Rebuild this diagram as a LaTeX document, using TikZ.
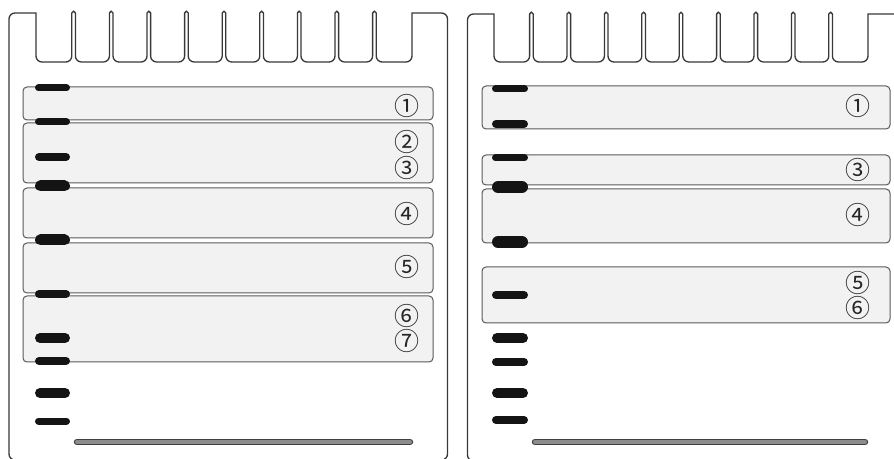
\documentclass[tikz,border=0pt]{standalone}
\usepackage{fontspec}
\newfontfamily\cjk{Noto Sans CJK SC}
\begin{document}
\begin{tikzpicture}[x=1pt,y=1pt,
  frame/.style={draw=black!78, line width=1.3pt},
  lane/.style={draw=black!65, fill=black!5, line width=1pt, rounded corners=4pt},
  band/.style={line cap=round, draw=black!92},
  barout/.style={line cap=round, line width=6.5pt, draw=black!75},
  barin/.style={line cap=round, line width=4pt, draw=black!45},
  lbl/.style={font=\cjk\fontsize{25}{25}\selectfont, inner sep=0pt, text=black!85}]
\useasboundingbox (0,0) rectangle (894,458);
\clip (0,0) rectangle (894,458);
\fill[white] (0,0) rectangle (894,458);

% ---------- left gel frame ----------
\draw[frame] (9,4) -- (9,439) arc[start angle=180,end angle=90,radius=6] -- (36,445)
 \foreach \i in {0,...,8} { -- ({36+37.6*\i+1.8*min(\i,1)},402) arc[start angle=180,end angle=270,radius=6] -- ({36+37.6*(\i+1)-7.8},396) arc[start angle=270,end angle=360,radius=6] -- ({36+37.6*(\i+1)-1.8},445) arc[start angle=180,end angle=0,radius=1.8] }
 -- ({36+37.6*9+1.8},402) arc[start angle=180,end angle=270,radius=6] -- (406,396) arc[start angle=270,end angle=360,radius=6] -- (412,445) -- (441.5,445) arc[start angle=90,end angle=0,radius=6] -- (447.5,4) arc[start angle=0,end angle=-90,radius=6] -- (15,-2) arc[start angle=270,end angle=180,radius=6] -- cycle;

% ---------- right gel frame ----------
\draw[frame] (473.5,-3) arc[start angle=270,end angle=180,radius=6] -- (467.5,438) arc[start angle=180,end angle=90,radius=6] -- (494,444)
 \foreach \i in {0,...,8} { -- ({494+37.4*\i+1.8*min(\i,1)},402) arc[start angle=180,end angle=270,radius=6] -- ({494+37.4*(\i+1)-7.8},396) arc[start angle=270,end angle=360,radius=6] -- ({494+37.4*(\i+1)-1.8},444) arc[start angle=180,end angle=0,radius=1.8] }
 -- ({494+37.4*9+1.8},402) arc[start angle=180,end angle=270,radius=6] -- (862,396) arc[start angle=270,end angle=360,radius=6] -- (868,444) -- (900,444);

% ---------- left lanes ----------
\draw[lane] (23,338) rectangle (433,371);
\draw[lane] (23,275) rectangle (433,335);
\draw[lane] (23,220) rectangle (433,270);
\draw[lane] (23,165) rectangle (433,215);
\draw[lane] (23,96) rectangle (433,162);

% ---------- right lanes ----------
\draw[lane] (482,329) rectangle (890,372);
\draw[lane] (482,273) rectangle (890,303);
\draw[lane] (482,215) rectangle (890,269);
\draw[lane] (482,135) rectangle (890,191);

% ---------- bands ----------
\foreach \y/\t in {370/7, 336/7, 301/8, 272/11, 218/11, 164/8, 120/10, 97/8, 65/10, 37/7}
  \draw[band, line width=\t pt] ({35+\t/2},\y) -- ({70-\t/2},\y);
\foreach \y/\t in {369/7, 334/8, 300/7, 271/12, 216/12, 163/8, 120/10, 96/8, 65/10, 38/8}
  \draw[band, line width=\t pt] ({492+\t/2},\y) -- ({528-\t/2},\y);

% ---------- bottom bars ----------
\draw[barout] (77,16) -- (410,16);
\draw[barin] (77,16) -- (410,16);
\draw[barout] (535,16) -- (865,16);
\draw[barin] (535,16) -- (865,16);

% ---------- labels ----------
\node[lbl] (L1) at (407,352) {①};
\node[lbl] (L2) at (407,316) {②};
\node[lbl] (L3) at (407,290) {③};
\node[lbl] (L4) at (407,244) {④};
\node[lbl] (L5) at (407,191) {⑤};
\node[lbl] (L6) at (407,142) {⑥};
\node[lbl] (L7) at (407,117) {⑦};
\node[lbl] (R1) at (858,352) {①};
\node[lbl] (R3) at (858,288) {③};
\node[lbl] (R4) at (858,243) {④};
\node[lbl] (R5) at (858,175) {⑤};
\node[lbl] (R6) at (858,150) {⑥};
\end{tikzpicture}
\end{document}
